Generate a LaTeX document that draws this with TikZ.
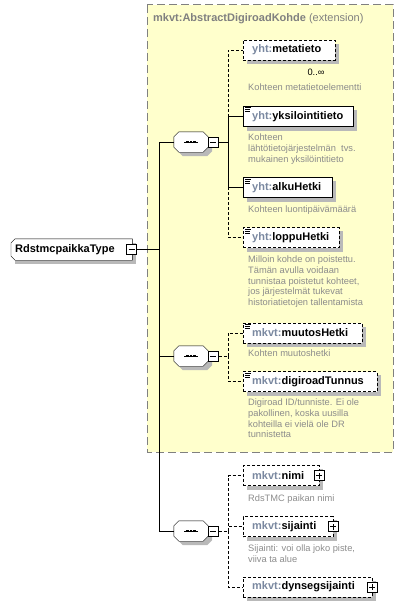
\documentclass[tikz,border=0pt]{standalone}
\usepackage{fontspec}
\setmainfont{Liberation Sans}
\usetikzlibrary{calc}
\definecolor{extyellow}{RGB}{255,255,204}
\definecolor{extframe}{RGB}{128,128,128}
\definecolor{nsgray}{RGB}{122,136,160}
\definecolor{descgray}{RGB}{140,140,140}
\definecolor{boxshadow}{RGB}{185,185,185}
\newcommand{\ns}[1]{\textcolor{nsgray}{#1}}
\newcommand{\octagon}[2]{($(#1.north west)+(5,0)+#2$) -- ($(#1.north east)+(-5,0)+#2$)
    -- ($(#1.north east)+(0,5)+#2$) -- ($(#1.south east)+(0,-5)+#2$) -- ($(#1.south east)+(-5,0)+#2$)
    -- ($(#1.south west)+(5,0)+#2$) -- ($(#1.south west)+(0,-5)+#2$) -- ($(#1.north west)+(0,5)+#2$) -- cycle}
\pgfdeclarelayer{bg}
\pgfdeclarelayer{shadow}
\pgfsetlayers{bg,shadow,main}

\begin{document}
\begin{tikzpicture}[x=1pt, y=-1pt, line width=0.8pt,
    optline/.style={dash pattern=on 3pt off 2pt},
    elem/.style={draw, fill=white, anchor=west, minimum height=20, inner xsep=0pt, inner ysep=0pt,
        text width=#1, align=left, font=\fontsize{11}{13}\selectfont\bfseries, execute at begin node={\hspace*{9pt}}},
    optelem/.style={elem=#1, optline},
    seq/.style={minimum width=34, minimum height=20, inner sep=0pt},
    minusbox/.style={draw, solid, fill=white, minimum size=10, inner sep=0pt, anchor=west,
        path picture={\draw[line width=0.7pt] ([xshift=-3pt]path picture bounding box.center) -- ([xshift=3pt]path picture bounding box.center);}},
    plusbox/.style={draw, solid, fill=white, minimum size=10, inner sep=0pt,
        path picture={\draw[line width=0.7pt] ([xshift=-3pt]path picture bounding box.center) -- ([xshift=3pt]path picture bounding box.center)
            ([yshift=-3pt]path picture bounding box.center) -- ([yshift=3pt]path picture bounding box.center);}},
    desc/.style={anchor=north west, inner sep=0pt, align=left, text=descgray, font=\fontsize{9.3}{10.8}\selectfont}]

    \useasboundingbox (0,0) rectangle (418,607);

    % Extension base
    \begin{pgfonlayer}{bg}
        \draw[extframe, line width=1pt, dash pattern=on 8pt off 4pt, fill=extyellow] (147,5) rectangle (393,452);
    \end{pgfonlayer}
    \node[anchor=west, inner sep=0pt, text=extframe, font=\fontsize{11}{13}\selectfont] (exttitle) at (153,19)
        {\textbf{mkvt:AbstractDigiroadKohde} (extension)};

    % Root type
    \node[anchor=west, minimum width=121, minimum height=21, inner sep=0pt] (root) at (11,249.5) {};
    \draw[fill=white] ([xshift=4pt]root.north west) -- (root.north east) -- (root.south east)
        -- ([xshift=4pt]root.south west) -- ([yshift=4pt]root.south west) -- ([yshift=-4pt]root.north west) -- cycle;
    \node[anchor=west, inner sep=0pt, font=\fontsize{11}{13}\selectfont\bfseries] (rootname) at (15,249.5) {RdstmcpaikkaType};
    \node[minusbox, anchor=center] (rmin) at (131.5,249.5) {};

    % Sequences
    \node[seq] (s1) at (191,142) {};
    \node[seq] (s2) at (191,356) {};
    \node[seq] (s3) at (191,531) {};
    \foreach \s in {s1,s2,s3} {
        \begin{pgfonlayer}{shadow}
            \fill[boxshadow] \octagon{\s}{(4,4)};
        \end{pgfonlayer}
        \draw[fill=white] \octagon{\s}{(0,0)};
        \draw ([xshift=-7pt]\s.center) -- ([xshift=7pt]\s.center);
        \foreach \d in {-3.5,0,3.5}
            \fill ([xshift=\d pt]\s.center) +(-1.3,-1.3) rectangle +(1.3,1.3);
    }
    \node[minusbox] (m1) at (s1.east) {};
    \node[minusbox] (m2) at (s2.east) {};
    \node[minusbox] (m3) at (s3.east) {};

    % First sequence
    \node[optelem=92] (meta) at (243,50) {\ns{yht:}metatieto};
    \node[font=\fontsize{9.3}{11}\selectfont, inner sep=0pt] (occ) at (316,72) {0..∞};
    \node[desc] (dmeta) at (248,83.5) {Kohteen metatietoelementti};
    \node[elem=110] (yks) at (243,116.5) {\ns{yht:}yksilointitieto};
    \node[desc] (dyks) at (248,133.5) {Kohteen\\lähtötietojärjestelmän\ \ tvs.\\mukainen yksilöintitieto};
    \node[elem=89] (alku) at (243,187.5) {\ns{yht:}alkuHetki};
    \node[desc] (dalku) at (248,205.5) {Kohteen luontipäivämäärä};
    \node[optelem=96] (loppu) at (243,237.5) {\ns{yht:}loppuHetki};
    \node[desc] (dloppu) at (248,255.5) {Milloin kohde on poistettu.\\Tämän avulla voidaan\\tunnistaa poistetut kohteet,\\jos järjestelmät tukevat\\historiatietojen tallentamista};

    % Second sequence
    \node[optelem=119] (muutos) at (243,333) {\ns{mkvt:}muutosHetki};
    \node[desc] (dmuutos) at (248,349.5) {Kohten muutoshetki};
    \node[optelem=134] (tunnus) at (243,381.5) {\ns{mkvt:}digiroadTunnus};
    \node[desc] (dtunnus) at (248,398.5) {Digiroad ID/tunniste. Ei ole\\pakollinen, koska uusilla\\kohteilla ei vielä ole DR\\tunnistetta};

    % Third sequence
    \node[optelem=76] (nimi) at (243,475.5) {\ns{mkvt:}nimi};
    \node[plusbox] (pnimi) at (nimi.east) {};
    \node[desc] (dnimi) at (248,494.5) {RdsTMC paikan nimi};
    \node[optelem=90] (sijainti) at (243,526.5) {\ns{mkvt:}sijainti};
    \node[plusbox] (psijainti) at (sijainti.east) {};
    \node[desc] (dsijainti) at (248,544.5) {Sijainti: voi olla joko piste,\\viiva ta alue};
    \node[optelem=129] (dynseg) at (243,587) {\ns{mkvt:}dynsegsijainti};
    \node[plusbox] (pdynseg) at (dynseg.east) {};

    % Shadows
    \begin{pgfonlayer}{shadow}
        \foreach \e in {root,meta,yks,alku,loppu,muutos,tunnus,nimi,sijainti,dynseg}
            \fill[boxshadow] ($(\e.north west)+(4,4)$) rectangle ($(\e.south east)+(4,4)$);
    \end{pgfonlayer}

    % Documentation marks
    \foreach \e in {yks,alku,loppu,muutos,tunnus} {
        \draw[line width=0.6pt] ([xshift=2pt,yshift=-1.5pt]\e.north west) -- ++(6,0);
        \draw[line width=0.6pt] ([xshift=2pt,yshift=-3.5pt]\e.north west) -- ++(5,0);
        \draw[line width=0.6pt] ([xshift=2pt,yshift=-5.5pt]\e.north west) -- ++(5,0);
    }

    % Connectors
    \coordinate (b0) at (159,249.5);
    \draw (rmin.east) -- (b0) |- (s1.west);
    \draw (b0) |- (s2.west);
    \draw (b0) |- (s3.west);

    \coordinate (b1) at (228,142);
    \draw (m1.east) -- (b1);
    \draw[optline] (b1) |- (meta.west);
    \draw[optline] (b1) |- (loppu.west);
    \draw (b1) |- (yks.west);
    \draw (b1) |- (alku.west);

    \coordinate (b2) at (228,356);
    \draw[optline] (m2.east) -- (b2);
    \draw[optline] (b2) |- (muutos.west);
    \draw[optline] (b2) |- (tunnus.west);

    \coordinate (b3) at (228,531);
    \draw[optline] (m3.east) -- (b3);
    \draw[optline] (b3) |- (nimi.west);
    \draw[optline] (b3) |- (sijainti.west);
    \draw[optline] (b3) |- (dynseg.west);
\end{tikzpicture}
\end{document}
